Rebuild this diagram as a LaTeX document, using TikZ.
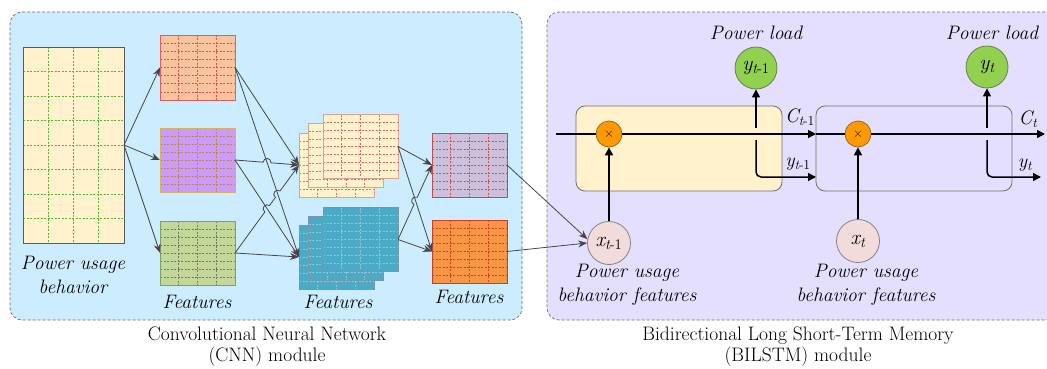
\documentclass[tikz,border=0pt]{standalone}
\usepackage{fontspec}
\usetikzlibrary{calc,arrows.meta,intersections}

\definecolor{cnnbg}{RGB}{204,236,255}
\definecolor{lstmbg}{RGB}{229,223,255}
\definecolor{panelrule}{RGB}{110,110,110}
\definecolor{cream}{RGB}{255,242,204}
\definecolor{inprule}{RGB}{90,90,90}
\definecolor{inpgrid}{RGB}{90,180,60}
\definecolor{orfill}{RGB}{250,196,158}
\definecolor{orrule}{RGB}{224,96,96}
\definecolor{orgrid}{RGB}{220,80,80}
\definecolor{pufill}{RGB}{204,153,255}
\definecolor{purule}{RGB}{214,182,86}
\definecolor{pugrid}{RGB}{180,140,70}
\definecolor{grfill}{RGB}{196,215,155}
\definecolor{grrule}{RGB}{130,160,100}
\definecolor{grgrid}{RGB}{110,125,90}
\definecolor{stkrule}{RGB}{226,160,150}
\definecolor{stkgrid}{RGB}{225,110,100}
\definecolor{tefill}{RGB}{75,170,198}
\definecolor{terule}{RGB}{120,150,165}
\definecolor{tegrid}{RGB}{150,195,210}
\definecolor{pgfill}{RGB}{204,192,218}
\definecolor{pgrule}{RGB}{192,80,77}
\definecolor{pggrid}{RGB}{210,80,80}
\definecolor{ocfill}{RGB}{247,150,70}
\definecolor{ocrule}{RGB}{200,60,40}
\definecolor{ocgrid}{RGB}{215,60,40}
\definecolor{connc}{RGB}{70,70,70}
\definecolor{cellrule}{RGB}{110,110,110}
\definecolor{multfill}{RGB}{255,153,0}
\definecolor{multrule}{RGB}{140,100,40}
\definecolor{xfill}{RGB}{242,220,219}
\definecolor{xrule}{RGB}{130,130,130}
\definecolor{yfill}{RGB}{146,208,80}
\definecolor{yrule}{RGB}{100,130,80}

% italic symbol with italic t and upright offset as subscript
\newcommand\timesub[2]{{\itshape #1}\textsubscript{{\itshape t}#2}}

% feature map: name, centre, width, height, fill, rule, grid colour
\newcommand\fmapgrid[7]{%
  \node[fmap, fill=#5, draw=#6, minimum width=#3pt, minimum height=#4pt] (#1) at (#2) {};
  \foreach \k in {1,2,3}{\draw[gridln, #7] ($(#1.north west)!\k/4!(#1.north east)$) -- ($(#1.south west)!\k/4!(#1.south east)$);}
  \foreach \k in {1,...,7}{\draw[gridln, #7] ($(#1.north west)!\k/8!(#1.south west)$) -- ($(#1.north east)!\k/8!(#1.south east)$);}
  \node[fmap, draw=#6, minimum width=#3pt, minimum height=#4pt] at (#2) {};
}

\tikzset{
  panel/.style={draw=panelrule, dash pattern=on 3pt off 2pt, rounded corners=12pt,
    line width=0.7pt, inner sep=0pt, outer sep=0pt},
  fmap/.style={rectangle, inner sep=0pt, outer sep=0pt, line width=0.8pt},
  gridln/.style={dash pattern=on 2pt off 1.5pt, line width=0.6pt},
  conn/.style={draw=connc, line width=0.8pt},
  connarr/.style={conn, -{Stealth[length=9pt,width=7pt]}},
  lstmln/.style={line width=1.5pt, draw=black},
  lstmarr/.style={lstmln, -{Triangle[length=8pt,width=8pt]}},
  lbl/.style={font=\fontsize{19.5}{23.5}\selectfont\itshape, align=center, inner sep=0pt},
  captext/.style={font=\fontsize{19.5}{21}\selectfont, align=center, inner sep=0pt},
  cellbox/.style={draw=cellrule, rounded corners=9pt, line width=0.8pt, inner sep=0pt, outer sep=0pt},
  mult/.style={circle, draw=multrule, fill=multfill, minimum size=26pt, inner sep=0pt,
    line width=0.7pt, font=\fontsize{13}{13}\selectfont},
  xin/.style={circle, draw=xrule, fill=xfill, minimum size=43pt, inner sep=0pt,
    line width=0.8pt, font=\fontsize{21}{21}\selectfont},
  yout/.style={circle, draw=yrule, fill=yfill, minimum size=42pt, inner sep=0pt,
    line width=0.8pt, font=\fontsize{21}{21}\selectfont},
  sidelbl/.style={inner sep=0pt, font=\fontsize{19.5}{20}\selectfont},
}

\begin{document}
\begin{tikzpicture}[x=1pt, y=-1pt]
\useasboundingbox (0,0) rectangle (1047,369);
\clip (0,0) rectangle (1047,369);

% module panels
\node[panel, fill=cnnbg, minimum width=512pt, minimum height=308pt] (cnnpanel) at (266,166) {};
\node[panel, fill=lstmbg, minimum width=510pt, minimum height=308pt] (lstmpanel) at (802,166) {};

% ---------------- CNN module ----------------
% input matrix
\node[fmap, fill=cream, draw=inprule, minimum width=101pt, minimum height=196pt] (inp) at (73.5,145) {};
\foreach \k in {1,2,3}{\draw[gridln, inpgrid] ($(inp.north west)!\k/4!(inp.north east)$) -- ($(inp.south west)!\k/4!(inp.south east)$);}
\foreach \k in {1,...,7}{\draw[gridln, inpgrid] ($(inp.north west)!\k/8!(inp.south west)$) -- ($(inp.north east)!\k/8!(inp.south east)$);}
\node[fmap, draw=inprule, minimum width=101pt, minimum height=196pt] at (73.5,145) {};
\node[lbl] (inplbl) at (73,275) {Power usage\\behavior};

% first feature maps
\fmapgrid{f1}{197.5,67.5}{75}{65}{orfill}{orrule}{orgrid}
\fmapgrid{f2}{197.5,160}{75}{64}{pufill}{purule}{pugrid}
\fmapgrid{f3}{197.5,253}{75}{64}{grfill}{grrule}{grgrid}
\node[lbl] (f1lbl) at (197,302) {Features};

% stacked feature maps
\fmapgrid{bk1}{336.5,165}{75}{64}{cream}{stkrule}{stkgrid}
\fmapgrid{md1}{346,155}{75}{64}{cream}{stkrule}{stkgrid}
\fmapgrid{fr1}{360.5,146.5}{75}{64}{cream}{stkrule}{stkgrid}
\fmapgrid{bk2}{336.5,257}{75}{64}{tefill}{terule}{tegrid}
\fmapgrid{md2}{346,248}{75}{64}{tefill}{terule}{tegrid}
\fmapgrid{fr2}{360.5,239.5}{75}{64}{tefill}{terule}{tegrid}
\node[lbl] (f2lbl) at (338,302) {Features};

% output feature maps
\fmapgrid{p3}{469.5,165}{75}{64}{pgfill}{pgrule}{pggrid}
\fmapgrid{o3}{469.5,251.5}{75}{63}{ocfill}{ocrule}{ocgrid}
\node[lbl] (f3lbl) at (469,297) {Features};

% input to first maps
\draw[connarr] (inp.east) -- (f1.west);
\draw[connarr] (inp.east) -- (f2.west);
\draw[connarr] (inp.east) -- (f3.west);

% crossing points
\path[name path=OT] (f1.east) -- (bk2.west);
\path[name path=PB] (f2.east) -- (bk1.west);
\path[name path=PT] (f2.east) -- (bk2.west);
\path[name path=GB] (f3.east) -- (bk1.west);
\path[name path=BO] (fr1.east) -- (o3.west);
\path[name path=TP] (fr2.east) -- (p3.west);
\path[name intersections={of=OT and PB, by=ha}];
\path[name intersections={of=OT and GB, by=hb}];
\path[name intersections={of=PT and GB, by=hc}];
\path[name intersections={of=BO and TP, by=hd}];

% first maps to stacks
\draw[connarr] (f1.east) -- (bk1.west);
\draw[connarr] (f1.east) -- (bk2.west);
\draw[connarr] (f2.east) -- (bk2.west);
\draw[connarr] (f3.east) -- (bk2.west);
\coordinate (ha1) at ($(ha)!4pt!(f2.east)$);
\coordinate (ha2) at ($(ha)!4pt!(bk1.west)$);
\draw[connarr] (f2.east) -- (ha1)
  .. controls ($(ha1)!1.333!90:(ha)$) and ($(ha2)!1.333!-90:(ha)$) .. (ha2) -- (bk1.west);
\coordinate (hc1) at ($(hc)!4pt!(f3.east)$);
\coordinate (hc2) at ($(hc)!4pt!(bk1.west)$);
\coordinate (hb1) at ($(hb)!4pt!(f3.east)$);
\coordinate (hb2) at ($(hb)!4pt!(bk1.west)$);
\draw[connarr] (f3.east) -- (hc1)
  .. controls ($(hc1)!1.333!90:(hc)$) and ($(hc2)!1.333!-90:(hc)$) .. (hc2) -- (hb1)
  .. controls ($(hb1)!1.333!90:(hb)$) and ($(hb2)!1.333!-90:(hb)$) .. (hb2) -- (bk1.west);

% stacks to output maps
\draw[connarr] (fr1.east) -- (p3.west);
\draw[connarr] (fr1.east) -- (o3.west);
\draw[connarr] (fr2.east) -- (o3.west);
\coordinate (hd1) at ($(hd)!4pt!(fr2.east)$);
\coordinate (hd2) at ($(hd)!4pt!(p3.west)$);
\draw[connarr] (fr2.east) -- (hd1)
  .. controls ($(hd1)!1.333!90:(hd)$) and ($(hd2)!1.333!-90:(hd)$) .. (hd2) -- (p3.west);

% ---------------- BiLSTM module ----------------
\node[cellbox, fill=cream, minimum width=206pt, minimum height=85pt] (cell1) at (679,148.5) {};
\node[cellbox, minimum width=196pt, minimum height=85pt] (cell2) at (914,148.5) {};

\node[mult] (m1) at (609,134) {×};
\node[mult] (m2) at (858,134) {×};
\node[xin] (x1) at (609,243) {\timesub{x}{-1}};
\node[xin] (x2) at (858,241) {\timesub{x}{}};
\node[yout] (y1) at (756,68) {\timesub{y}{-1}};
\node[yout] (y2) at (987,67) {\timesub{y}{}};

\node[lbl] (pl1) at (756,33) {Power load};
\node[lbl] (pl2) at (992,33) {Power load};
\node[lbl] (xl1) at (627,285) {Power usage\\behavior features};
\node[lbl] (xl2) at (866,285) {Power usage\\behavior features};

% cell state line
\coordinate (cin) at (556,134);
\coordinate (cout) at (1045,134);
\draw[lstmln] (cin) -- (m1.west);
\draw[lstmarr] (m1.east) -- (m1.east -| cell2.west);
\draw[lstmln] (m1.east -| cell2.west) -- (m2.west);
\draw[lstmarr] (m2.east) -- (cout);

% inputs
\draw[lstmarr] (x1.north) -- (m1.south);
\draw[lstmarr] (x2.north) -- (m2.south);

% outputs
\coordinate (up1) at (756,128);
\coordinate (dn1) at (756,140);
\coordinate (ho1) at (816,177);
\draw[lstmarr] (up1) -- (y1.south);
\draw[lstmarr, rounded corners=5pt] (dn1) |- (ho1);
\coordinate (up2) at (987,128);
\coordinate (dn2) at (987,140);
\coordinate (ho2) at (1041,177);
\draw[lstmarr] (up2) -- (y2.south);
\draw[lstmarr, rounded corners=5pt] (dn2) |- (ho2);

\node[sidelbl] (cl1) at (800,117) {\timesub{C}{-1}};
\node[sidelbl] (yl1) at (798,164) {\timesub{y}{-1}};
\node[sidelbl] (cl2) at (1028,119) {\timesub{C}{}};
\node[sidelbl] (yl2) at (1025,165) {\timesub{y}{}};

% features into the first step
\draw[connarr] (p3.east) -- (x1.170);
\draw[connarr] (o3.east) -- (x1.west);

% captions
\node[captext] (cap1) at (267,347) {Convolutional Neural Network\\(CNN) module};
\node[captext] (cap2) at (798,347) {Bidirectional Long Short-Term Memory\\(BILSTM) module};
\end{tikzpicture}
\end{document}
